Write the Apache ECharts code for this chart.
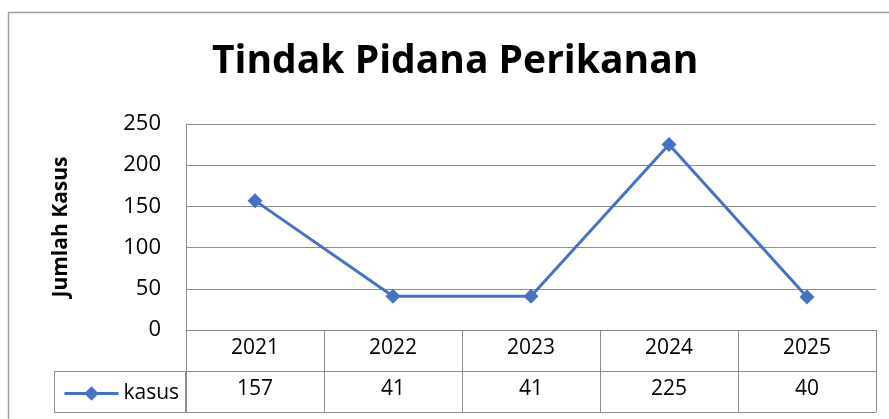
<!DOCTYPE html>
<html>
<head>
<meta charset="utf-8">
<script src="https://cdn.jsdelivr.net/npm/echarts@6/dist/echarts.min.js"></script>
<style>
  html, body { margin: 0; padding: 0; background: #fff; }
  #main { width: 889px; height: 419px; }
</style>
</head>
<body>
<div id="main"></div>
<script>
// data
var years = ['2021', '2022', '2023', '2024', '2025'];
var kasus = [157, 41, 41, 225, 40];
var yTicks = [0, 50, 100, 150, 200, 250];

var gray = '#8c8c8c';
var font = '"Open Sans", "Noto Sans", sans-serif';

var myChart = echarts.init(document.getElementById('main'));

var option = {
    backgroundColor: '#fff',
    animation: false,
    textStyle: { fontFamily: font, color: '#000' },
    title: {
        text: 'Tindak Pidana Perikanan',
        left: 212,
        top: 42,
        padding: 0,
        textStyle: { fontFamily: font, fontSize: 39, fontWeight: 'bold', color: '#000' }
    },
    grid: { left: 186, right: 13, top: 124, bottom: 89 },
    legend: {
        left: 58,
        top: 378,
        itemWidth: 54,
        itemHeight: 18,
        itemGap: 4,
        lineStyle: { width: 3 },
        textStyle: { fontSize: 21, color: '#000', fontFamily: font },
        data: ['kasus']
    },
    xAxis: [{
        type: 'category',
        data: years,
        boundaryGap: true,
        position: 'bottom',
        axisLine: { lineStyle: { color: gray, width: 1 } },
        axisTick: { show: true, length: 82, lineStyle: { color: gray } },
        axisLabel: { fontSize: 21, color: '#000', margin: 8 }
    }, {
        type: 'category',
        data: kasus.map(String),
        position: 'bottom',
        offset: 41,
        axisLine: { lineStyle: { color: gray, width: 1 } },
        axisTick: { show: false },
        axisLabel: { fontSize: 21, color: '#000', margin: 8 }
    }, {
        type: 'category',
        data: years,
        position: 'bottom',
        offset: 82,
        axisLine: { lineStyle: { color: gray, width: 1 } },
        axisTick: { show: false },
        axisLabel: { show: false }
    }],
    yAxis: {
        type: 'value',
        min: 0,
        max: 250,
        interval: 50,
        name: 'Jumlah Kasus',
        nameLocation: 'middle',
        nameGap: 114,
        nameTextStyle: { fontSize: 21, fontWeight: 'bold', color: '#000', fontFamily: font },
        axisLine: { show: true, lineStyle: { color: gray, width: 1 } },
        axisTick: { show: false },
        axisLabel: {
            fontSize: 22, color: '#000', margin: 25,
            formatter: function (v) { return yTicks.indexOf(v) >= 0 ? String(v) : ''; }
        },
        splitLine: { show: true, lineStyle: { color: gray, width: 1 } }
    },
    graphic: [{
        type: 'rect',
        shape: { x: 8.5, y: 12.5, width: 900, height: 420 },
        style: { fill: 'none', stroke: '#a0a0a0', lineWidth: 1.5 },
        silent: true
    }, {
        type: 'rect',
        shape: { x: 54.5, y: 371.5, width: 131, height: 41 },
        style: { fill: 'none', stroke: gray, lineWidth: 1 },
        silent: true
    }],
    series: [{
        name: 'kasus',
        type: 'line',
        data: kasus,
        symbol: 'diamond',
        symbolSize: 15,
        lineStyle: { color: '#4472C4', width: 3 },
        itemStyle: { color: '#4472C4' }
    }]
};
myChart.setOption(option);
</script>
</body>
</html>
